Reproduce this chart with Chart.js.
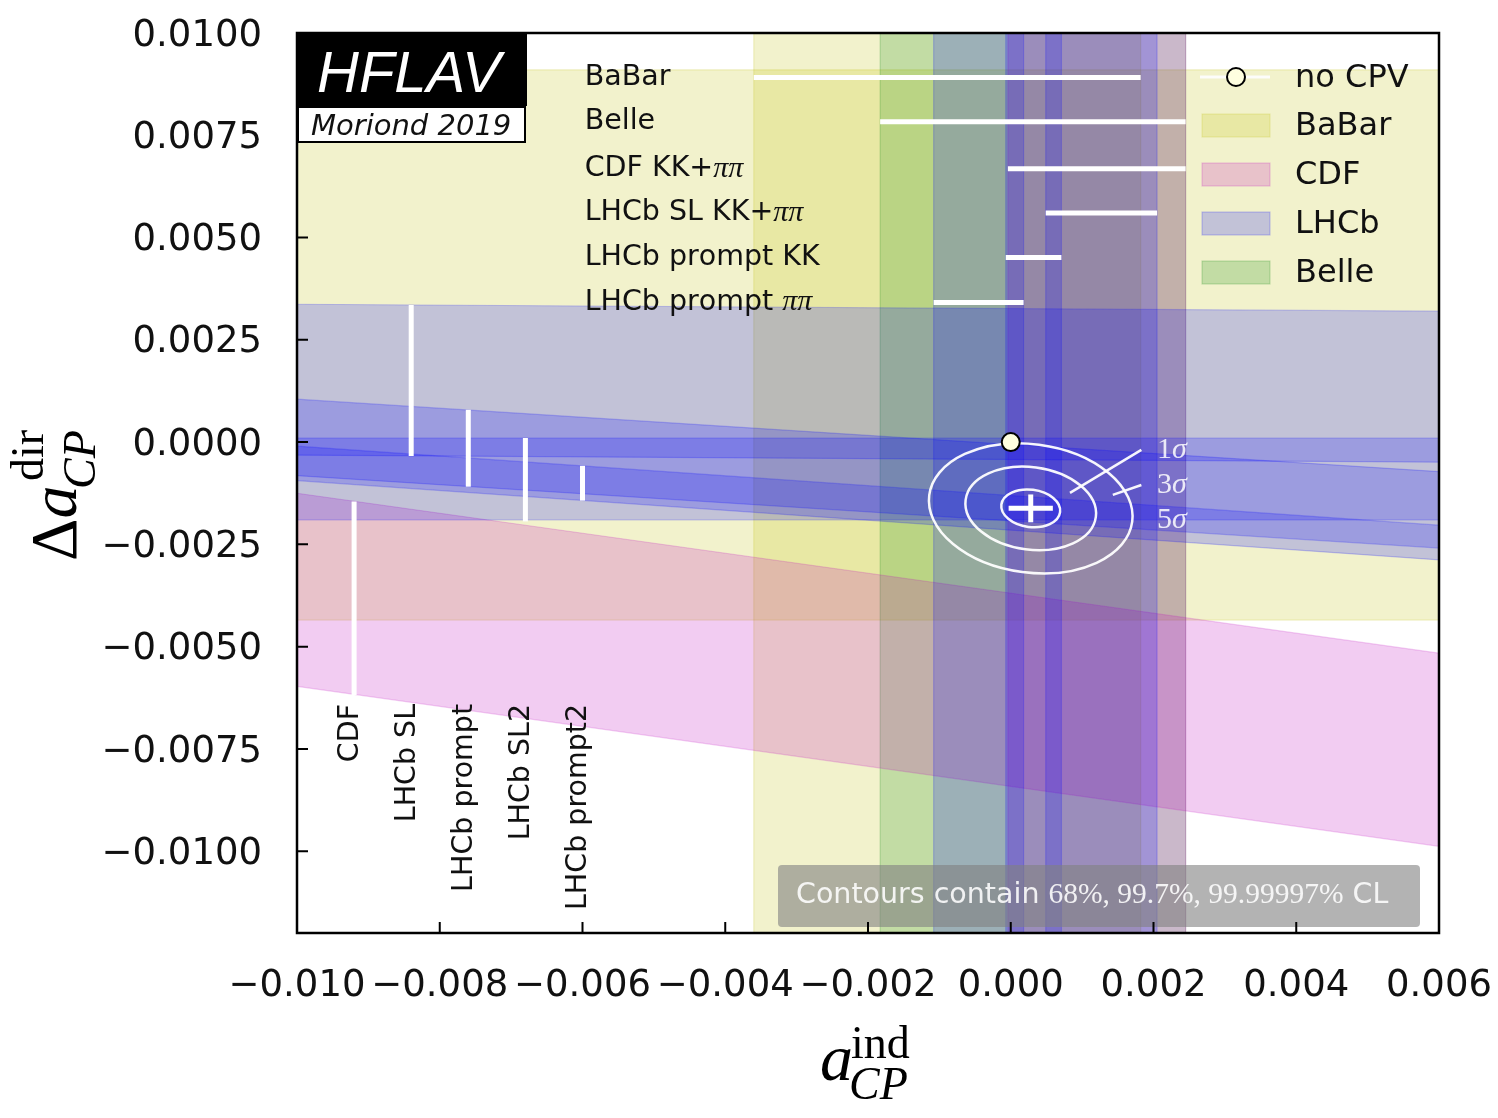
<!DOCTYPE html>
<html>
<head>
<meta charset="utf-8">
<script src="https://cdn.jsdelivr.net/npm/chart.js@4.4.1/dist/chart.umd.min.js"></script>
<style>
html, body { margin: 0; padding: 0; background: #fff; }
#wrap { width: 1498px; height: 1118px; }
</style>
</head>
<body>
<div id="wrap"><canvas id="chart"></canvas></div>
<script>
// axes
const xLimits = [-0.010, 0.006];
const yLimits = [-0.012, 0.010];
const xTicks = [-0.010, -0.008, -0.006, -0.004, -0.002, 0.000, 0.002, 0.004, 0.006];
const yTicks = [-0.0100, -0.0075, -0.0050, -0.0025, 0.0000, 0.0025, 0.0050, 0.0075, 0.0100];

// a_CP^ind measurements (vertical bands), 1 sigma ranges
const indNames = ['BaBar', 'Belle', 'CDF KK+ππ', 'LHCb SL KK+ππ', 'LHCb prompt KK', 'LHCb prompt ππ'];
const indExp = ['BaBar', 'Belle', 'CDF', 'LHCb', 'LHCb', 'LHCb'];
const indLow = [-0.0036, -0.00183, -0.00004, 0.00049, -0.00007, -0.00108];
const indHigh = [0.00182, 0.00245, 0.00245, 0.00205, 0.00071, 0.00018];

// delta a_CP^dir bands, edges read at x = -0.010 (left) and x = 0.006 (right)
const dirExp = ['BaBar', 'CDF', 'LHCb', 'LHCb', 'LHCb', 'LHCb'];
const dirTopLeft = [0.0091, -0.00125, 0.00337, 0.00105, 0.0001, -0.0001];
const dirTopRight = [0.0091, -0.00516, 0.00320, -0.00072, 0.0001, -0.00203];
const dirBotLeft = [-0.00435, -0.00597, -0.00032, -0.00082, -0.0019, -0.00094];
const dirBotRight = [-0.00435, -0.00988, -0.00049, -0.00259, -0.0019, -0.00288];

// delta a_CP^dir ranges shown as white bars on the left
const dirNames = ['CDF', 'LHCb SL', 'LHCb prompt', 'LHCb SL2', 'LHCb prompt2'];
const dirLow = [-0.00618, -0.00034, -0.00109, -0.00194, -0.00143];
const dirHigh = [-0.00145, 0.00335, 0.00079, 0.0001, -0.00058];

// fit result and contours
const fitX = [0.00028];
const fitY = [-0.00162];
const fitErrX = [0.00031];
const fitErrY = [0.00034];
const contourNames = ['1σ', '3σ', '5σ'];
const contourRx = [0.000415, 0.00092, 0.001434];
const contourRy = [0.000457, 0.00101, 0.00157];
const noCPV = [{x: 0, y: 0}];

const legendNames = ['BaBar', 'CDF', 'LHCb', 'Belle'];

// where the annotations sit (data coords)
const indLineY = [0.00891, 0.00783, 0.00668, 0.0056, 0.00451, 0.00341];
const indLabelX = -0.00597;
const dirLineX = [-0.0092, -0.0084, -0.0076, -0.0068, -0.0060];
const dirLabelEndY = -0.0064;
const contourLabelX = 0.00205;
const contourLabelY = [-0.00019, -0.00105, -0.0019];

// wanted plot box in pixels
const plotBox = { left: 297, top: 33, right: 1439, bottom: 933 };

const SANS = 'DejaVu Sans';
const SERIF = 'Liberation Serif';

const expColor = {
    BaBar: 'rgba(191,191,0,0.2)',
    Belle: 'rgba(0,128,0,0.2)',
    CDF: 'rgba(191,0,191,0.2)',
    LHCb: 'rgba(0,0,255,0.2)'
};
const expOrder = { BaBar: 40, Belle: 30, CDF: 20, LHCb: 10 };

function band(points, exp)
{
    return {
        data: points,
        fill: 'shape',
        backgroundColor: expColor[exp],
        borderColor: expColor[exp],
        borderWidth: 1.2,
        pointRadius: 0,
        tension: 0,
        order: expOrder[exp]
    };
}

function whiteLine(points, width)
{
    return {
        data: points,
        fill: false,
        borderColor: '#fff',
        borderWidth: width,
        borderCapStyle: 'butt',
        pointRadius: 0,
        tension: 0,
        order: 2
    };
}

let datasets = [];

for (let i = 0; i < indNames.length; i++)
{
    datasets.push(band([
        {x: indLow[i], y: yLimits[0]}, {x: indLow[i], y: yLimits[1]},
        {x: indHigh[i], y: yLimits[1]}, {x: indHigh[i], y: yLimits[0]}
    ], indExp[i]));
}

for (let i = 0; i < dirExp.length; i++)
{
    datasets.push(band([
        {x: xLimits[0], y: dirTopLeft[i]}, {x: xLimits[1], y: dirTopRight[i]},
        {x: xLimits[1], y: dirBotRight[i]}, {x: xLimits[0], y: dirBotLeft[i]}
    ], dirExp[i]));
}

for (let i = 0; i < indNames.length; i++)
{
    datasets.push(whiteLine([{x: indLow[i], y: indLineY[i]}, {x: indHigh[i], y: indLineY[i]}], 5));
}

for (let i = 0; i < dirNames.length; i++)
{
    datasets.push(whiteLine([{x: dirLineX[i], y: dirLow[i]}, {x: dirLineX[i], y: dirHigh[i]}], 5));
}

// best fit cross
datasets.push(whiteLine([{x: fitX[0] - fitErrX[0], y: fitY[0]}, {x: fitX[0] + fitErrX[0], y: fitY[0]}], 5));
datasets.push(whiteLine([{x: fitX[0], y: fitY[0] - fitErrY[0]}, {x: fitX[0], y: fitY[0] + fitErrY[0]}], 5));

const noCPVIndex = datasets.length;
datasets.push({
    data: noCPV,
    showLine: false,
    pointRadius: 9,
    pointBackgroundColor: 'rgb(255,255,224)',
    pointBorderColor: '#000',
    pointBorderWidth: 2,
    order: 0
});

function fmt(v, digits)
{
    let s = Math.abs(v).toFixed(digits);
    return (v < -1e-12 ? '\u2212' : '') + s;
}

function drawMixed(ctx, text, x, y, base, size)
{
    let cx = x;
    for (const ch of text)
    {
        ctx.font = (ch === 'π' || ch === 'σ') ? 'italic ' + size + 'px ' + SERIF : base;
        ctx.fillText(ch, cx, y);
        cx += ctx.measureText(ch).width;
    }
    return cx;
}

const decor = {
    id: 'decor',
    beforeDatasetDraw(chart, args)
    {
        if (args.index !== noCPVIndex) return;
        let ctx = chart.ctx;
        let X = v => chart.scales.x.getPixelForValue(v);
        let Y = v => chart.scales.y.getPixelForValue(v);
        ctx.save();
        ctx.strokeStyle = 'rgba(255,255,255,0.95)';
        ctx.lineWidth = 2.5;
        let cx = X(fitX[0]), cy = Y(fitY[0]);
        for (let i = 0; i < contourNames.length; i++)
        {
            ctx.beginPath();
            ctx.ellipse(cx, cy, X(fitX[0] + contourRx[i]) - cx, cy - Y(fitY[0] + contourRy[i]), 0.13, 0, 2 * Math.PI);
            ctx.stroke();
        }
        // leader lines to the labels
        ctx.beginPath();
        ctx.moveTo(X(0.00183), Y(contourLabelY[0]));
        ctx.lineTo(X(0.00083), Y(-0.00124));
        ctx.moveTo(X(0.00183), Y(contourLabelY[1]));
        ctx.lineTo(X(0.00143), Y(-0.00129));
        ctx.stroke();
        ctx.restore();
    },
    afterDatasetsDraw(chart)
    {
        let ctx = chart.ctx;
        let area = chart.chartArea;
        let X = v => chart.scales.x.getPixelForValue(v);
        let Y = v => chart.scales.y.getPixelForValue(v);
        ctx.save();

        // contour labels
        ctx.fillStyle = 'rgba(255,255,255,0.85)';
        ctx.textAlign = 'left';
        ctx.textBaseline = 'middle';
        for (let i = 0; i < contourNames.length; i++)
        {
            drawMixed(ctx, contourNames[i], X(contourLabelX), Y(contourLabelY[i]), '30px ' + SERIF, 30);
        }

        // measurement labels at top
        ctx.fillStyle = '#111';
        for (let i = 0; i < indNames.length; i++)
        {
            drawMixed(ctx, indNames[i], X(indLabelX), Y(indLineY[i]), '28.5px ' + SANS, 30);
        }

        // rotated labels at bottom left
        ctx.font = '28.5px ' + SANS;
        ctx.textAlign = 'right';
        for (let i = 0; i < dirNames.length; i++)
        {
            ctx.save();
            ctx.translate(X(dirLineX[i]) - 4, Y(dirLabelEndY));
            ctx.rotate(-Math.PI / 2);
            ctx.fillText(dirNames[i], 0, 0);
            ctx.restore();
        }

        // contour note box
        ctx.fillStyle = 'rgba(128,128,128,0.6)';
        ctx.beginPath();
        ctx.roundRect(778, 865, 642, 62, 4);
        ctx.fill();
        ctx.fillStyle = 'rgba(255,255,255,0.88)';
        ctx.textAlign = 'left';
        ctx.textBaseline = 'alphabetic';
        let nx = 796;
        ctx.font = '28.5px ' + SANS;
        ctx.fillText('Contours contain ', nx, 903);
        nx += ctx.measureText('Contours contain ').width;
        ctx.font = '29.5px ' + SERIF;
        ctx.fillText('68%, 99.7%, 99.99997%', nx, 903);
        nx += ctx.measureText('68%, 99.7%, 99.99997%').width;
        ctx.font = '28.5px ' + SANS;
        ctx.fillText(' CL', nx, 903);

        // legend
        ctx.strokeStyle = 'rgba(255,255,255,0.9)';
        ctx.lineWidth = 3;
        ctx.beginPath();
        ctx.moveTo(1200, 77);
        ctx.lineTo(1270, 77);
        ctx.stroke();
        ctx.beginPath();
        ctx.arc(1236, 77, 9, 0, 2 * Math.PI);
        ctx.fillStyle = 'rgb(255,255,224)';
        ctx.fill();
        ctx.strokeStyle = '#000';
        ctx.lineWidth = 2;
        ctx.stroke();
        ctx.font = '32px ' + SANS;
        ctx.textBaseline = 'middle';
        ctx.fillStyle = '#111';
        ctx.fillText('no CPV', 1295, 79);
        for (let i = 0; i < legendNames.length; i++)
        {
            let ly = 114 + i * 49;
            ctx.fillStyle = expColor[legendNames[i]];
            ctx.fillRect(1202, ly, 68, 23);
            ctx.strokeStyle = expColor[legendNames[i]];
            ctx.lineWidth = 1.2;
            ctx.strokeRect(1202, ly, 68, 23);
            ctx.fillStyle = '#111';
            ctx.fillText(legendNames[i], 1295, ly + 13);
        }

        // frame and inward ticks
        ctx.strokeStyle = '#000';
        ctx.lineWidth = 2.5;
        ctx.strokeRect(area.left, area.top, area.right - area.left, area.bottom - area.top);
        ctx.lineWidth = 2;
        ctx.beginPath();
        xTicks.forEach(v => { ctx.moveTo(X(v), area.bottom); ctx.lineTo(X(v), area.bottom - 11); });
        yTicks.forEach(v => { ctx.moveTo(area.left, Y(v)); ctx.lineTo(area.left + 11, Y(v)); });
        ctx.stroke();

        // HFLAV logo
        ctx.fillStyle = '#000';
        ctx.fillRect(area.left, area.top, 230, 73);
        ctx.fillStyle = '#fff';
        ctx.textBaseline = 'alphabetic';
        ctx.font = 'italic 58px "Liberation Sans"';
        ctx.fillText('HFLAV', 317, 92);
        ctx.fillRect(area.left + 1, 107, 227, 35);
        ctx.strokeStyle = '#000';
        ctx.lineWidth = 2;
        ctx.strokeRect(area.left + 1, 107, 227, 35);
        ctx.fillStyle = '#111';
        ctx.font = 'italic 29px ' + SANS;
        ctx.fillText('Moriond 2019', 311, 135);

        // axis titles
        ctx.fillStyle = '#000';
        ctx.font = 'italic 66px ' + SERIF;
        ctx.fillText('a', 820, 1080);
        ctx.font = '46px ' + SERIF;
        ctx.fillText('ind', 851, 1058);
        ctx.font = 'italic 46px ' + SERIF;
        ctx.fillText('CP', 849, 1099);

        ctx.save();
        ctx.translate(76, 561);
        ctx.rotate(-Math.PI / 2);
        ctx.font = '66px ' + SERIF;
        ctx.fillText('Δ', 0, 0);
        let dw = ctx.measureText('Δ').width;
        ctx.font = 'italic 66px ' + SERIF;
        ctx.fillText('a', dw, 0);
        ctx.font = '46px ' + SERIF;
        ctx.fillText('dir', 80, -33);
        ctx.font = 'italic 46px ' + SERIF;
        ctx.fillText('CP', 72, 19);
        ctx.restore();

        ctx.restore();
    }
};

let chartElement = document.getElementById('chart').getContext('2d');

let bandChart = new Chart(chartElement,
    {
        type: 'line',
        data: { datasets: datasets },
        options:
            {
                responsive: true,
                maintainAspectRatio: false,
                devicePixelRatio: 1,
                animation: false,
                events: [],
                layout: { padding: { left: 0, top: 33, right: 59, bottom: 0 } },
                plugins: { legend: { display: false }, tooltip: { enabled: false } },
                scales:
                    {
                        x:
                            {
                                type: 'linear',
                                min: xLimits[0],
                                max: xLimits[1],
                                grid: { display: false, drawTicks: false },
                                border: { display: false },
                                afterBuildTicks: scale => { scale.ticks = xTicks.map(v => ({value: v})); },
                                afterFit: scale =>
                                {
                                    scale.height = 185;
                                    scale.paddingLeft = 0;
                                    scale.paddingRight = 0;
                                },
                                ticks:
                                    {
                                        autoSkip: false,
                                        maxRotation: 0,
                                        padding: 31,
                                        color: '#111',
                                        font: { family: SANS, size: 37 },
                                        callback: v => fmt(v, 3)
                                    }
                            },
                        y:
                            {
                                type: 'linear',
                                min: yLimits[0],
                                max: yLimits[1],
                                grid: { display: false, drawTicks: false },
                                border: { display: false },
                                afterBuildTicks: scale => { scale.ticks = yTicks.map(v => ({value: v})); },
                                afterFit: scale =>
                                {
                                    scale.width = 297;
                                    scale.paddingTop = 0;
                                    scale.paddingBottom = 0;
                                },
                                ticks:
                                    {
                                        autoSkip: false,
                                        padding: 35,
                                        labelOffset: 3,
                                        color: '#111',
                                        font: { family: SANS, size: 37 },
                                        callback: v => fmt(v, 4)
                                    }
                            }
                    }
            },
        plugins: [decor]
    });

// nudge the layout padding if the plot box is still off
for (let pass = 0; pass < 3; pass++)
{
    let a = bandChart.chartArea;
    let pad = bandChart.options.layout.padding;
    let dTop = plotBox.top - a.top, dRight = a.right - plotBox.right;
    if (Math.abs(dTop) + Math.abs(dRight) < 0.5) break;
    pad.top = Math.max(0, pad.top + dTop);
    pad.right = Math.max(0, pad.right + dRight);
    bandChart.update();
}
</script>
</body>
</html>
